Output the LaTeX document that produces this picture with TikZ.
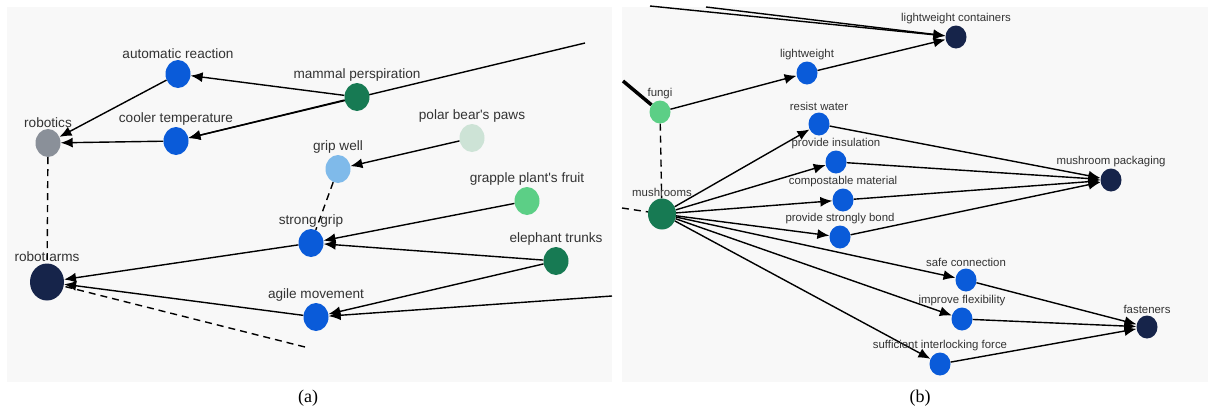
\documentclass[tikz,border=0pt]{standalone}
\usepackage{fontspec}
\setmainfont{Liberation Sans}
\newfontfamily\capfont{Liberation Serif}
\usetikzlibrary{arrows.meta,shapes.geometric}
\definecolor{fond}{HTML}{F8F8F8}
\definecolor{bleu}{HTML}{0A5BD9}
\definecolor{vertfonce}{HTML}{177A53}
\definecolor{vertclair}{HTML}{5CCF86}
\definecolor{vertpale}{HTML}{CDE3D6}
\definecolor{bleuclair}{HTML}{7FBAEA}
\definecolor{marine}{HTML}{16244A}
\definecolor{grisn}{HTML}{8A9099}
\pgfdeclarelayer{bg}
\pgfdeclarelayer{edges}
\pgfsetlayers{bg,edges,main}
\begin{document}
\begin{tikzpicture}[x=1pt,y=-1pt,
	pa/.style={ellipse,draw=none,inner sep=0pt,minimum width=25pt,minimum height=28pt,
		label={[font=\fontsize{13.6}{14}\selectfont,text=black!80,inner sep=1pt]above:#1}},
	pb/.style={ellipse,draw=none,inner sep=0pt,minimum width=21pt,minimum height=23pt,
		label={[font=\fontsize{11.4}{12}\selectfont,text=black!80,inner sep=1pt]above:#1}},
	lx/.style={every label/.append style={xshift=#1}},
	fl/.style={-{Latex[length=12pt,width=10pt]},line width=1.4pt},
	tiret/.style={line width=1.4pt,dash pattern=on 7pt off 5pt}]
	\useasboundingbox (0,0) rectangle (1208,410);
	\begin{pgfonlayer}{bg}
		\fill[fond] (7,7) rectangle (612,382);
		\fill[fond] (622,7) rectangle (1208,382);
	\end{pgfonlayer}
	\node[font=\capfont\fontsize{18}{18}\selectfont] (capa) at (308,398) {(a)};
	\node[font=\capfont\fontsize{18}{18}\selectfont] (capb) at (920,398) {(b)};
	
	% (a)
	\node[pa={automatic reaction},fill=bleu] (auto) at (178,74) {};
	\node[pa={mammal perspiration},fill=vertfonce] (mammal) at (357,97) {};
	\node[pa=robotics,fill=grisn] (robotics) at (48,143) {};
	\node[pa={cooler temperature},fill=bleu] (cooler) at (176,141) {};
	\node[pa={polar bear\textquotesingle s paws},fill=vertpale] (polar) at (472,138) {};
	\node[pa={grip well},fill=bleuclair] (grip) at (338,169) {};
	\node[pa={grapple plant\textquotesingle s fruit},fill=vertclair] (grapple) at (527,201) {};
	\node[pa={strong grip},fill=bleu] (strong) at (311,243) {};
	\node[lx=-14pt,pa={elephant trunks},fill=vertfonce] (elephant) at (556,261) {};
	\node[pa={robot arms},fill=marine,minimum width=34pt,minimum height=37pt] (arms) at (47,282) {};
	\node[pa={agile movement},fill=bleu] (agile) at (316,317) {};
	\coordinate (ha) at (585,43);
	\coordinate (da) at (612,296);
	\coordinate (ba) at (305,347);
	
	% (b)
	\node[pb={lightweight containers},fill=marine] (containers) at (956,37) {};
	\node[pb=lightweight,fill=bleu] (light) at (807,73) {};
	\node[pb=fungi,fill=vertclair] (fungi) at (660,112) {};
	\node[pb={resist water},fill=bleu] (water) at (819,124) {};
	\node[pb={provide insulation},fill=bleu] (insul) at (836,162) {};
	\node[pb={mushroom packaging},fill=marine] (packaging) at (1111,180) {};
	\node[pb={compostable material},fill=bleu] (compost) at (843,200) {};
	\node[lx=-12pt,pb={mushrooms},fill=vertfonce,minimum width=28pt,minimum height=31pt] (mush) at (662,214) {};
	\node[pb={provide strongly bond},fill=bleu] (bond) at (840,237) {};
	\node[pb={safe connection},fill=bleu] (safe) at (966,280) {};
	\node[pb={improve flexibility},fill=bleu] (flex) at (962,319) {};
	\node[pb=fasteners,fill=marine] (fasteners) at (1147,327) {};
	\node[pb={sufficient interlocking force},fill=bleu] (force) at (940,364) {};
	\coordinate (h1) at (650,6);
	\coordinate (h2) at (706,7);
	\coordinate (hf) at (623,81);
	\coordinate (gm) at (622,208);
	
	\begin{pgfonlayer}{edges}
		\draw[fl] (mammal) -- (auto);
		\draw[fl] (mammal) -- (cooler);
		\draw[fl] (ha) -- (cooler);
		\draw[fl] (auto) -- (robotics);
		\draw[fl] (cooler) -- (robotics);
		\draw[tiret] (robotics) -- (arms);
		\draw[fl] (polar) -- (grip);
		\draw[tiret] (grip) -- (strong);
		\draw[fl] (grapple) -- (strong);
		\draw[fl] (elephant) -- (strong);
		\draw[fl] (elephant) -- (agile);
		\draw[fl] (da) -- (agile);
		\draw[fl] (strong) -- (arms);
		\draw[fl] (agile) -- (arms);
		\draw[tiret] (ba) -- (arms);
		
		\draw[fl] (h1) -- (containers);
		\draw[fl] (h2) -- (containers);
		\draw[fl] (light) -- (containers);
		\draw[fl] (fungi) -- (light);
		\draw[line width=3.5pt] (hf) -- (fungi);
		\draw[tiret] (fungi) -- (mush);
		\draw[tiret] (gm) -- (mush);
		\foreach \c in {water,insul,compost,bond,safe,flex,force}
			\draw[fl] (mush) -- (\c);
		\foreach \c in {water,insul,compost,bond}
			\draw[fl] (\c) -- (packaging);
		\foreach \c in {safe,flex,force}
			\draw[fl] (\c) -- (fasteners);
	\end{pgfonlayer}
\end{tikzpicture}
\end{document}
